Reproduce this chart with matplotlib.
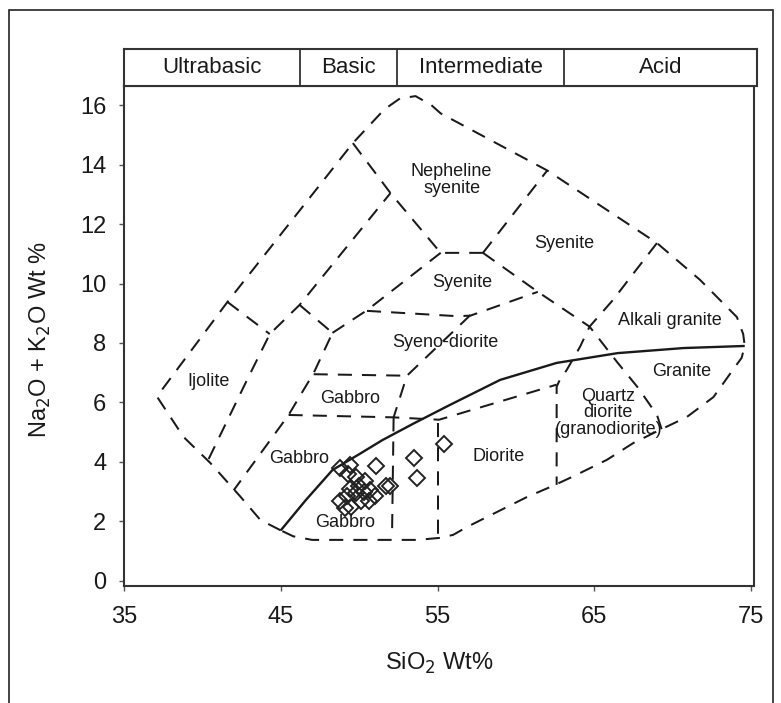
import matplotlib
matplotlib.use('Agg')
import matplotlib.pyplot as plt
from matplotlib.patches import Rectangle

plt.rcParams['font.family'] = ['Liberation Sans', 'DejaVu Sans']

# ---- field boundaries, SiO2 (wt%) vs Na2O + K2O (wt%) ----
outer_sio2 = [45.0, 43.7, 42.4, 40.5, 38.8, 37.1, 41.6, 49.6, 51.6, 52.6, 53.6, 54.6,
              55.2, 62.0, 69.0, 71.75, 74.1, 74.5, 74.6, 74.4, 73.85, 72.6, 70.9, 69.2,
              67.5, 65.8, 63.6, 62.2, 60.7, 58.8, 56.9, 56.0, 55.2, 53.7, 47.0, 45.8, 45.0]
outer_alk = [1.7, 2.05, 2.85, 3.97, 4.84, 6.2, 9.38, 14.72, 15.85, 16.22, 16.3, 16.0,
             15.72, 13.8, 11.36, 10.12, 8.87, 8.3, 7.9, 7.5, 7.1, 6.18, 5.51, 5.08,
             4.64, 4.07, 3.5, 3.16, 2.82, 2.32, 1.82, 1.55, 1.45, 1.38, 1.38, 1.5, 1.7]

ijolite_sio2 = [41.6, 44.3]
ijolite_alk = [9.38, 8.3]

diag_sio2 = [40.4, 42.85, 44.3, 46.2, 52.0]
diag_alk = [4.1, 6.76, 8.3, 9.28, 13.04]

nephsy_sio2 = [49.6, 52.0, 55.2, 57.9]
nephsy_alk = [14.72, 13.04, 11.03, 11.03]

syen_left_sio2 = [57.9, 62.0]
syen_left_alk = [11.03, 13.8]

syen_base_sio2 = [57.9, 61.4, 64.7, 66.5, 67.8, 69.0, 69.3]
syen_base_alk = [11.03, 9.72, 8.55, 7.33, 6.49, 5.58, 5.1]

agran_sio2 = [69.0, 67.5, 66.2, 64.7, 64.1, 63.24, 62.8, 62.6, 62.6]
agran_alk = [11.36, 10.34, 9.45, 8.55, 7.88, 7.09, 6.76, 6.53, 3.23]

gab_left_sio2 = [46.2, 48.3, 47.1, 45.5, 42.0]
gab_left_alk = [9.28, 8.34, 6.99, 5.58, 3.05]

sdio_left_sio2 = [48.3, 50.5, 55.2]
sdio_left_alk = [8.34, 9.1, 11.03]

sdio_top_sio2 = [50.5, 56.3, 57.1, 61.4]
sdio_top_alk = [9.08, 8.9, 8.92, 9.72]

sdio_right_sio2 = [57.1, 53.05, 52.2]
sdio_right_alk = [8.94, 6.9, 5.5]

gab_top_sio2 = [47.1, 53.05]
gab_top_alk = [6.95, 6.9]

gab_mid_sio2 = [45.5, 52.2, 55.1, 62.6]
gab_mid_alk = [5.58, 5.5, 5.42, 6.6]

gab_vert_sio2 = [52.2, 52.1]
gab_vert_alk = [5.5, 1.6]

dio_vert_sio2 = [55.0, 55.0]
dio_vert_alk = [5.3, 1.45]

# alkaline / subalkaline divide
divide_sio2 = [45.0, 46.6, 48.3, 50.0, 51.5, 53.5, 55.8, 59.0, 62.6, 66.5, 70.7, 74.6]
divide_alk = [1.7, 2.72, 3.73, 4.26, 4.74, 5.3, 5.92, 6.76, 7.33, 7.66, 7.83, 7.9]

# ---- samples ----
sample_sio2 = [48.8, 49.4, 49.3, 49.8, 50.0, 50.4, 50.7, 51.7, 52.0, 48.8, 49.2, 49.5,
               49.8, 50.1, 50.6, 51.0, 50.3, 49.4, 49.1, 51.1, 53.5, 53.7, 55.4]
sample_alk = [3.8, 3.9, 3.6, 3.5, 3.2, 3.35, 3.05, 3.2, 3.2, 2.7, 2.85, 2.5,
              2.95, 2.7, 2.7, 2.85, 3.0, 3.1, 2.45, 3.85, 4.15, 3.45, 4.6]

# ---- field names ----
field_names = ['Nepheline\nsyenite', 'Syenite', 'Syenite', 'Alkali granite',
               'Syeno-diorite', 'Granite', 'Quartz\ndiorite\n(granodiorite)',
               'Diorite', 'Ijolite', 'Gabbro', 'Gabbro', 'Gabbro']
field_x = [55.9, 63.1, 56.6, 69.8, 55.5, 70.6, 65.9, 58.9, 40.4, 49.4, 46.2, 49.1]
field_y = [13.48, 11.36, 10.05, 8.77, 8.0, 7.03, 5.65, 4.17, 6.69, 6.15, 4.13, 1.95]

# ---- silica classes across the top ----
class_names = ['Ultrabasic', 'Basic', 'Intermediate', 'Acid']
class_bounds = [35, 46.2, 52.4, 63.1, 75.38]

W, H = 781, 703
fig = plt.figure(figsize=(W / 100, H / 100), dpi=100)

def box(l, t, r, b):
    return [l / W, 1 - b / H, (r - l) / W, (b - t) / H]

ax = fig.add_axes(box(124, 86, 754, 586))
band = fig.add_axes(box(124, 49, 757, 86))

ink = '#1a1a1a'
dash = (0, (7, 5))

boundaries = [
    (outer_sio2, outer_alk), (ijolite_sio2, ijolite_alk), (diag_sio2, diag_alk),
    (nephsy_sio2, nephsy_alk), (syen_left_sio2, syen_left_alk),
    (syen_base_sio2, syen_base_alk), (agran_sio2, agran_alk),
    (gab_left_sio2, gab_left_alk), (sdio_left_sio2, sdio_left_alk),
    (sdio_top_sio2, sdio_top_alk), (sdio_right_sio2, sdio_right_alk),
    (gab_top_sio2, gab_top_alk), (gab_mid_sio2, gab_mid_alk),
    (gab_vert_sio2, gab_vert_alk), (dio_vert_sio2, dio_vert_alk),
]
for xs, ys in boundaries:
    ax.plot(xs, ys, color=ink, lw=1.45, ls=dash, dash_capstyle='butt')

ax.plot(divide_sio2, divide_alk, color=ink, lw=1.7, solid_capstyle='butt')

ax.plot(sample_sio2, sample_alk, ls='none', marker='D', ms=8.5,
        mfc='none', mec='#222222', mew=1.4)

for name, fx, fy in zip(field_names, field_x, field_y):
    ax.text(fx, fy, name, ha='center', va='center', fontsize=13,
            color=ink, linespacing=0.95)

ax.set_xlim(35, 75.19)
ax.set_ylim(-0.17, 16.64)
ax.set_xticks([35, 45, 55, 65, 75])
ax.set_yticks(range(0, 17, 2))
ax.tick_params(axis='both', direction='out', length=3.6, width=1,
               color='#555555', labelsize=17, labelcolor=ink)
ax.tick_params(axis='y', pad=9)
ax.tick_params(axis='x', pad=11)
for s in ax.spines.values():
    s.set_linewidth(1.5)
    s.set_color('#333333')

band.set_xlim(class_bounds[0], class_bounds[-1])
band.set_ylim(0, 1)
band.set_xticks([])
band.set_yticks([])
for s in band.spines.values():
    s.set_linewidth(1.5)
    s.set_color('#333333')
for xd in class_bounds[1:-1]:
    band.plot([xd, xd], [0, 1], color='#333333', lw=1.3)
for i, name in enumerate(class_names):
    band.text((class_bounds[i] + class_bounds[i + 1]) / 2, 0.5, name,
              ha='center', va='center', fontsize=16, color=ink)

fig.text(439 / W, 1 - 663 / H, 'SiO$_2$ Wt%', ha='center', va='center',
         fontsize=17, color=ink)
fig.text(40 / W, 1 - 340 / H, 'Na$_2$O + K$_2$O Wt %', ha='center', va='center',
         rotation=90, fontsize=17, color=ink)

# outer border round the whole figure
fig.patches.append(Rectangle((9 / W, -0.05), (773 - 9) / W, 1 - 10 / H + 0.05,
                             transform=fig.transFigure, fill=False,
                             ec='#222222', lw=1.2))

fig.savefig('out.png', dpi=100)
